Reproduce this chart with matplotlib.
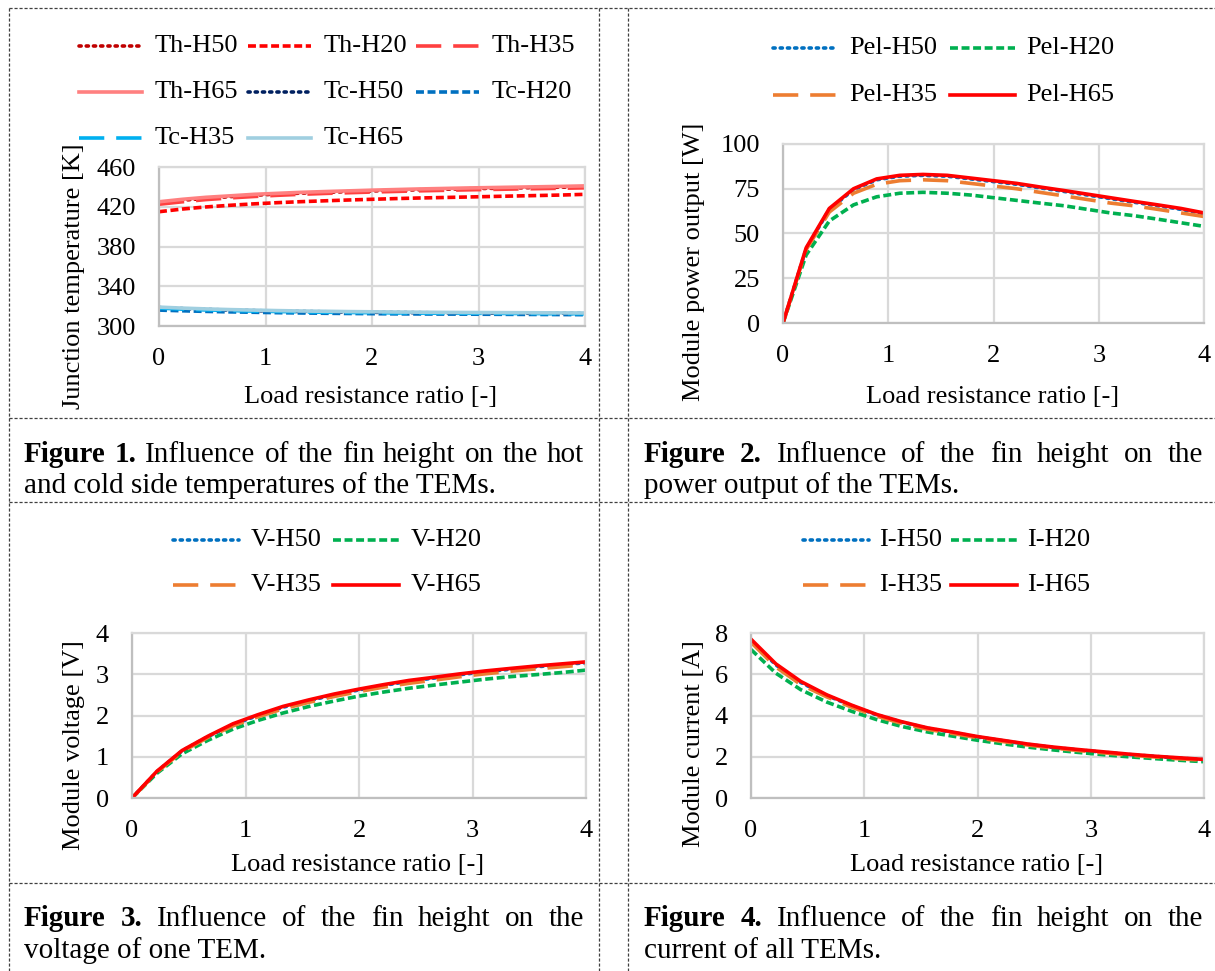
import numpy as np
import matplotlib.pyplot as plt
from matplotlib.lines import Line2D

plt.rcParams['font.family'] = ['Liberation Serif', 'DejaVu Serif']

W, H = 1215, 971
FS = 19      # chart text
FS_CAP = 21  # caption text

# ---- data ----
x_ratio = [0, 0.22, 0.44, 0.67, 0.89, 1.11, 1.33, 1.56, 1.78, 2.0,
           2.22, 2.44, 2.67, 2.89, 3.11, 3.33, 3.56, 3.78, 4.0]

th_h50 = [424, 426.5, 428.5, 430.2, 431.6, 432.7, 433.7, 434.5, 435.2, 435.9,
          436.5, 437.1, 437.6, 438.1, 438.5, 438.9, 439.3, 439.7, 440]
th_h20 = [415, 417.7, 419.8, 421.5, 422.9, 424.1, 425.1, 426, 426.8, 427.5,
          428.2, 428.8, 429.3, 429.8, 430.3, 430.8, 431.3, 431.8, 432.5]
th_h35 = [422.5, 425, 427.2, 428.9, 430.3, 431.5, 432.5, 433.4, 434.1, 434.8,
          435.4, 436, 436.5, 437, 437.4, 437.8, 438.2, 438.6, 439]
th_h65 = [425, 427.5, 429.5, 431, 432.5, 433.5, 434.5, 435.3, 436, 436.7,
          437.3, 437.9, 438.4, 438.9, 439.3, 439.7, 440.1, 440.5, 441]
tc_h50 = [318.5, 317.5, 316.7, 316, 315.5, 315, 314.6, 314.3, 314, 313.8,
          313.6, 313.4, 313.2, 313.1, 313, 312.9, 312.8, 312.7, 312.6]
tc_h20 = [316, 315.3, 314.7, 314.2, 313.8, 313.4, 313.1, 312.8, 312.6, 312.4,
          312.2, 312.1, 312, 311.9, 311.8, 311.7, 311.6, 311.5, 311.4]
tc_h35 = [318, 317, 316.2, 315.6, 315, 314.6, 314.2, 313.9, 313.6, 313.4,
          313.2, 313, 312.9, 312.8, 312.7, 312.6, 312.5, 312.4, 312.3]
tc_h65 = [319, 318, 317.2, 316.5, 316, 315.5, 315.1, 314.8, 314.5, 314.3,
          314.1, 313.9, 313.7, 313.6, 313.5, 313.4, 313.3, 313.2, 313.1]

pel_h50 = [0, 41.5, 63.5, 74.5, 80, 82, 82.5, 82, 80.5, 79,
           77.5, 75.5, 73.5, 71.5, 69.5, 67.5, 65.5, 63.5, 61]
pel_h20 = [0, 38, 57, 66, 70.5, 72.5, 73, 72.5, 71.5, 70,
           68.5, 67, 65.5, 63.5, 61.5, 60, 58, 56, 54]
pel_h35 = [0, 41, 62, 72.5, 77.5, 79.5, 80, 79.5, 78, 76.5,
           75, 73, 71, 69, 67, 65.5, 63.5, 61.5, 59.5]
pel_h65 = [0, 42, 64, 75, 80.5, 82.5, 83, 82.5, 81, 79.5,
           78, 76, 74, 72, 70, 68, 66, 64, 61.5]

v_h50 = [0, 0.64, 1.14, 1.49, 1.78, 2.0, 2.2, 2.36, 2.5, 2.62,
         2.73, 2.83, 2.91, 2.99, 3.06, 3.12, 3.18, 3.23, 3.28]
v_h20 = [0, 0.6, 1.07, 1.4, 1.67, 1.88, 2.06, 2.22, 2.35, 2.47,
         2.57, 2.66, 2.74, 2.81, 2.88, 2.94, 2.99, 3.04, 3.1]
v_h35 = [0, 0.63, 1.12, 1.47, 1.75, 1.97, 2.16, 2.32, 2.46, 2.58,
         2.69, 2.78, 2.86, 2.94, 3.01, 3.07, 3.13, 3.18, 3.23]
v_h65 = [0, 0.65, 1.15, 1.5, 1.8, 2.02, 2.22, 2.38, 2.52, 2.64,
         2.75, 2.85, 2.93, 3.01, 3.08, 3.14, 3.2, 3.25, 3.3]

i_h50 = [7.65, 6.45, 5.6, 4.97, 4.47, 4.03, 3.68, 3.38, 3.18, 2.96,
         2.78, 2.6, 2.45, 2.33, 2.22, 2.11, 2.02, 1.93, 1.86]
i_h20 = [7.2, 6.05, 5.25, 4.65, 4.2, 3.8, 3.47, 3.2, 3.0, 2.8,
         2.63, 2.47, 2.33, 2.21, 2.1, 2.0, 1.91, 1.83, 1.76]
i_h35 = [7.55, 6.35, 5.5, 4.9, 4.4, 3.97, 3.62, 3.33, 3.13, 2.92,
         2.74, 2.57, 2.42, 2.3, 2.19, 2.08, 1.99, 1.9, 1.83]
i_h65 = [7.7, 6.5, 5.65, 5.0, 4.5, 4.05, 3.7, 3.4, 3.2, 2.98,
         2.8, 2.62, 2.47, 2.35, 2.24, 2.13, 2.03, 1.95, 1.87]

# ---- styles ----
DOT = (0, (0.6, 1.4))
DASH = (0, (2.2, 1.0))
LDASH = (0, (7, 3.3))
LW = 2.6

fig = plt.figure(figsize=(W / 100, H / 100), dpi=100)


def fx(px):
    return px / W


def fy(py):
    return 1 - py / H


def line_kw(ls):
    kw = dict(ls=ls, lw=LW)
    if ls == DOT:
        kw['dash_capstyle'] = 'round'
    return kw


def make_axes(l, t, r, b, ylim, yticks, ypad=16.5):
    ax = fig.add_axes([fx(l), fy(b), (r - l) / W, (b - t) / H])
    ax.set_xlim(0, 4)
    ax.set_ylim(*ylim)
    ax.set_xticks([0, 1, 2, 3, 4])
    ax.set_yticks(yticks)
    ax.grid(color='#d9d9d9', lw=1.6)
    ax.set_axisbelow(True)
    for s in ax.spines.values():
        s.set_color('#d9d9d9')
        s.set_linewidth(1.6)
    ax.spines['left'].set_color('#bfbfbf')
    ax.spines['bottom'].set_color('#bfbfbf')
    ax.tick_params(length=0, labelsize=FS)
    ax.tick_params(axis='x', pad=15.5)
    ax.tick_params(axis='y', pad=ypad)
    return ax


def legend(entries, x0, y0, colw, rowh, ncol, slen, toff):
    for k, (lab, col, ls) in enumerate(entries):
        r, c = divmod(k, ncol)
        xs = x0 + c * colw
        ys = y0 + r * rowh
        fig.add_artist(Line2D([fx(xs), fx(xs + slen)], [fy(ys), fy(ys)],
                              color=col, transform=fig.transFigure, **line_kw(ls)))
        fig.text(fx(xs + toff), fy(ys), lab, fontsize=FS, va='center', ha='left')


# ---- Figure 1: temperatures ----
ax1 = make_axes(159, 167, 585, 326, (300, 460), [300, 340, 380, 420, 460])
s1 = [('Th-H50', th_h50, '#c00000', DOT), ('Th-H20', th_h20, '#ff0000', DASH),
      ('Th-H35', th_h35, '#ff4040', LDASH), ('Th-H65', th_h65, '#ff8080', '-'),
      ('Tc-H50', tc_h50, '#002060', DOT), ('Tc-H20', tc_h20, '#0070c0', DASH),
      ('Tc-H35', tc_h35, '#00b0f0', LDASH), ('Tc-H65', tc_h65, '#a0cfe0', '-')]
for lab, ys, col, ls in s1:
    ax1.plot(x_ratio, ys, color=col, **line_kw(ls))
legend([(a, c, l) for a, _, c, l in s1], 79, 46, 168.5, 46, 3, 63, 76)
fig.text(fx(371), fy(397), 'Load resistance ratio [-]', fontsize=FS, ha='center', va='center')
fig.text(fx(74), fy(276), 'Junction temperature [K]', fontsize=FS, ha='center',
         va='center', rotation=90)

# ---- Figure 2: power ----
ax2 = make_axes(783, 144, 1204, 323, (0, 100), [0, 25, 50, 75, 100])
s2 = [('Pel-H50', pel_h50, '#0070c0', DOT), ('Pel-H20', pel_h20, '#00b050', DASH),
      ('Pel-H35', pel_h35, '#ed7d31', LDASH), ('Pel-H65', pel_h65, '#ff0000', '-')]
for lab, ys, col, ls in s2:
    ax2.plot(x_ratio, ys, color=col, **line_kw(ls))
legend([(a, c, l) for a, _, c, l in s2], 773, 48, 177, 47, 2, 65, 76)
fig.text(fx(993), fy(397), 'Load resistance ratio [-]', fontsize=FS, ha='center', va='center')
fig.text(fx(694), fy(262), 'Module power output [W]', fontsize=FS, ha='center',
         va='center', rotation=90)

# ---- Figure 3: voltage ----
ax3 = make_axes(132, 633, 586, 798, (0, 4), [0, 1, 2, 3, 4])
s3 = [('V-H50', v_h50, '#0070c0', DOT), ('V-H20', v_h20, '#00b050', DASH),
      ('V-H35', v_h35, '#ed7d31', LDASH), ('V-H65', v_h65, '#ff0000', '-')]
for lab, ys, col, ls in s3:
    ax3.plot(x_ratio, ys, color=col, **line_kw(ls))
legend([(a, c, l) for a, _, c, l in s3], 173, 540, 160, 45, 2, 66, 78)
fig.text(fx(358), fy(865), 'Load resistance ratio [-]', fontsize=FS, ha='center', va='center')
fig.text(fx(74), fy(745), 'Module voltage [V]', fontsize=FS, ha='center',
         va='center', rotation=90)

# ---- Figure 4: current ----
ax4 = make_axes(751, 633, 1204, 798, (0, 8), [0, 2, 4, 6, 8])
s4 = [('I-H50', i_h50, '#0070c0', DOT), ('I-H20', i_h20, '#00b050', DASH),
      ('I-H35', i_h35, '#ed7d31', LDASH), ('I-H65', i_h65, '#ff0000', '-')]
for lab, ys, col, ls in s4:
    ax4.plot(x_ratio, ys, color=col, **line_kw(ls))
legend([(a, c, l) for a, _, c, l in s4], 803, 540, 148, 45, 2, 66, 76)
fig.text(fx(977), fy(865), 'Load resistance ratio [-]', fontsize=FS, ha='center', va='center')
fig.text(fx(694), fy(744), 'Module current [A]', fontsize=FS, ha='center',
         va='center', rotation=90)

# ---- table frame (dashed cell borders) ----
frame = dict(color='#404040', lw=0.9, ls=(0, (2.5, 1.5)), transform=fig.transFigure)
for yy in [8, 418, 502, 883]:
    fig.add_artist(Line2D([fx(9), 1], [fy(yy), fy(yy)], **frame))
for xx in [9, 599, 628]:
    fig.add_artist(Line2D([fx(xx), fx(xx)], [fy(8), 0], **frame))

# ---- captions (first line justified) ----
renderer = fig.canvas.get_renderer()


def caption(x0, x1, yb1, yb2, num, rest, line2):
    words = [('Figure', 'bold'), (num + '.', 'bold')] + [(w, 'normal') for w in rest.split()]
    texts = [fig.text(0, fy(yb1), w, fontsize=FS_CAP, weight=wt, va='baseline')
             for w, wt in words]
    widths = [t.get_window_extent(renderer).width for t in texts]
    gap = (x1 - x0 - sum(widths)) / (len(words) - 1)
    x = x0
    for t, w in zip(texts, widths):
        t.set_x(fx(x))
        x += w + gap
    fig.text(fx(x0), fy(yb2), line2, fontsize=FS_CAP, va='baseline')


caption(24, 584, 462, 493, '1', 'Influence of the fin height on the hot',
        'and cold side temperatures of the TEMs.')
caption(644, 1203, 462, 493, '2', 'Influence of the fin height on the',
        'power output of the TEMs.')
caption(24, 584, 926, 958, '3', 'Influence of the fin height on the',
        'voltage of one TEM.')
caption(644, 1203, 926, 958, '4', 'Influence of the fin height on the',
        'current of all TEMs.')

fig.savefig('out.png', dpi=100)
